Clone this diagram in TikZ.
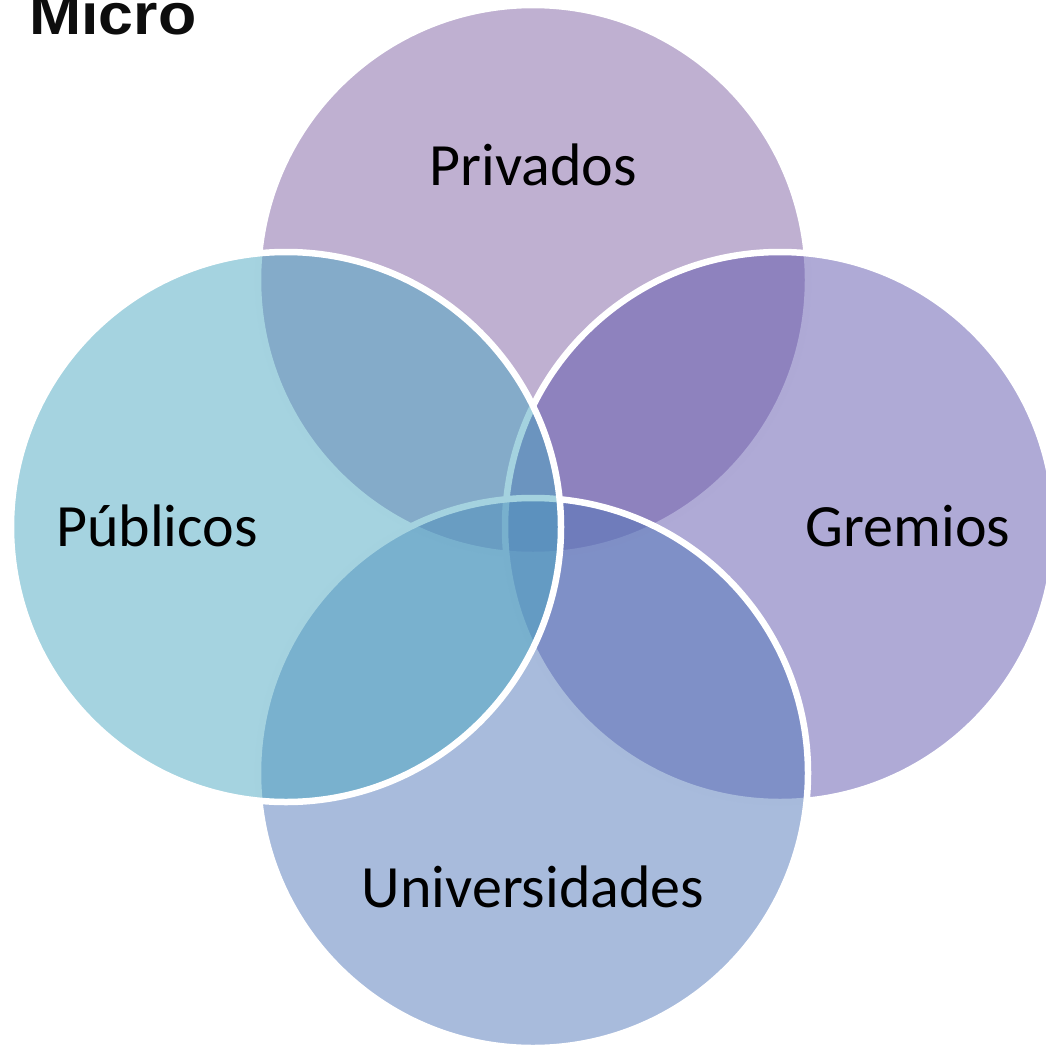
\documentclass[tikz,border=0pt]{standalone}
\usepackage{fontspec}
\setmainfont{Carlito}
\newfontfamily\titlefont{Liberation Sans}
\definecolor{privcol}{RGB}{127,97,163}
\definecolor{gremcol}{RGB}{95,85,173}
\definecolor{univcol}{RGB}{81,119,185}
\definecolor{publcol}{RGB}{75,167,193}
\tikzset{
  ring/.style={circle,draw=white,line width=6.5pt,fill=#1,fill opacity=0.5,
    draw opacity=1,inner sep=0pt,minimum size=550pt},
  tag/.style={anchor=base,font=\fontsize{60}{66}\selectfont}
}
\begin{document}
\begin{tikzpicture}[x=1pt,y=-1pt]
\useasboundingbox (0,0) rectangle (1045,1049);
\node[ring=privcol] (priv) at (533,280) {};
\node[ring=gremcol] (grem) at (780,527) {};
\node[ring=univcol] (univ) at (533,773) {};
\node[ring=publcol] (publ) at (286,527) {};
\node[tag] (privtxt) at (533,185) {Privados};
\node[tag] (gremtxt) at (908,546) {Gremios};
\node[tag] (univtxt) at (533,907) {Universidades};
\node[tag] (publtxt) at (157,546) {Públicos};
\node[anchor=base west,inner sep=0pt,xscale=1.08,text=black!95,
  font=\titlefont\bfseries\fontsize{58}{60}\selectfont] (title) at (29,35) {Micro};
\end{tikzpicture}
\end{document}
